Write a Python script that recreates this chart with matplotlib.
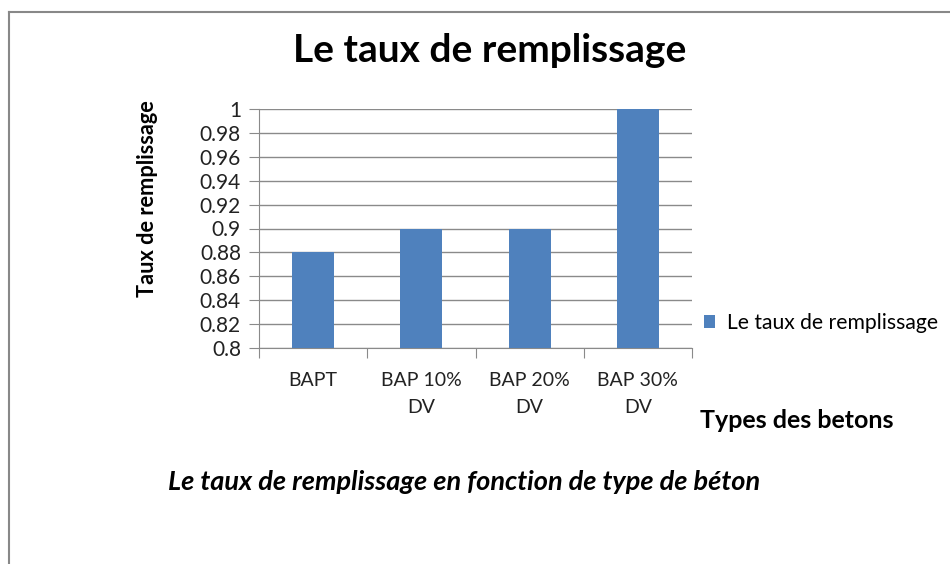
import numpy as np
import matplotlib
matplotlib.use("Agg")
import matplotlib.pyplot as plt
from matplotlib.lines import Line2D

# données
categories = ["BAPT", "BAP 10%\nDV", "BAP 20%\nDV", "BAP 30%\nDV"]
taux = [0.88, 0.90, 0.90, 1.00]
yticks = [0.8, 0.82, 0.84, 0.86, 0.88, 0.9, 0.92, 0.94, 0.96, 0.98, 1]
ytick_labels = ["0.8", "0.82", "0.84", "0.86", "0.88", "0.9", "0.92", "0.94", "0.96", "0.98", "1"]

plt.rcParams['font.family'] = ['Lato', 'DejaVu Sans']

W, H = 950, 564
fig = plt.figure(figsize=(W / 100, H / 100), dpi=100)

# cadre du graphique (coupé à droite et en bas)
fig.add_artist(Line2D([9 / W, 9 / W], [0, 1 - 12 / H], color="#888888", lw=1.5))
fig.add_artist(Line2D([9 / W, 1], [1 - 12 / H, 1 - 12 / H], color="#888888", lw=1.5))

ax = fig.add_axes([259 / W, 1 - 348 / H, (692 - 259) / W, (348 - 109) / H])

x = np.arange(len(categories))
ax.bar(x, taux, width=0.39, color="#4F81BD", zorder=3, label="Le taux de remplissage")
ax.set_xlim(-0.5, len(categories) - 0.5)
ax.set_ylim(0.8, 1.0)
ax.set_yticks(yticks)
ax.set_yticklabels(ytick_labels, fontsize=15, color="#222222")
ax.yaxis.grid(True, color="#8a8a8a", lw=1, zorder=0)

# ticks de catégories aux limites
ax.set_xticks(np.arange(len(categories) + 1) - 0.5, minor=False)
ax.set_xticklabels([])
ax.tick_params(axis="x", length=7, color="#8a8a8a", direction="out")
ax.tick_params(axis="y", length=7, color="#8a8a8a", direction="out", pad=6)
for i, c in enumerate(categories):
    ax.text(i, -0.1, c, transform=ax.get_xaxis_transform(), ha="center", va="top",
            fontsize=14, color="#222222", linespacing=1.75)

for s in ["top", "right"]:
    ax.spines[s].set_visible(False)
for s in ["left", "bottom"]:
    ax.spines[s].set_color("#8a8a8a")

fig.text(490 / W, 1 - 50 / H, "Le taux de remplissage", ha="center", va="center",
         fontsize=28, fontweight="bold")
fig.text(147 / W, 1 - 199 / H, "Taux de remplissage", ha="center", va="center",
         rotation=90, fontsize=15.7, fontweight="bold")
fig.text(797 / W, 1 - 420 / H, "Types des betons", ha="center", va="center",
         fontsize=18, fontweight="bold")
fig.text(464 / W, 1 - 482 / H, "Le taux de remplissage en fonction de type de béton",
         ha="center", va="center", fontsize=19.5, fontweight="bold", style="italic")

ax.legend(loc="center left", bbox_to_anchor=(704 / W, 1 - 323 / H), bbox_transform=fig.transFigure,
          frameon=False, fontsize=15.2, handlelength=0.5, handleheight=0.5, handletextpad=0.6,
          borderpad=0, borderaxespad=0)

fig.savefig("out.png", dpi=100)
